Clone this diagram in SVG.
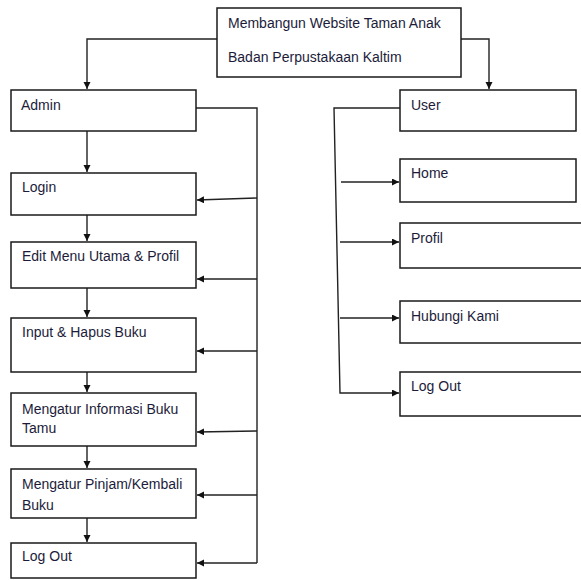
<svg xmlns="http://www.w3.org/2000/svg" width="581" height="580" viewBox="0 0 581 580">
<style>
.box{fill:#fff;stroke:#1a1a1a;stroke-width:1.5}
.lbl{font-family:"Liberation Sans",Arial,sans-serif;font-size:14px;fill:#1c1c3a}
.c{fill:none;stroke:#222;stroke-width:1.4}
</style>
<defs>
<marker id="ah" markerUnits="userSpaceOnUse" markerWidth="8" markerHeight="8" refX="7" refY="3.5" orient="auto">
<path d="M0,0 L7,3.5 L0,7 z" fill="#111"/>
</marker>
</defs>
<rect width="581" height="580" fill="#fff"/>
<g id="connectors">
<polyline class="c" points="217,39 87,39 87,89" marker-end="url(#ah)"/>
<polyline class="c" points="461,39 489,39 489,89" marker-end="url(#ah)"/>
<line class="c" x1="87" y1="131" x2="87" y2="172" marker-end="url(#ah)"/>
<line class="c" x1="87" y1="215" x2="87" y2="241" marker-end="url(#ah)"/>
<line class="c" x1="87" y1="288" x2="87" y2="317" marker-end="url(#ah)"/>
<line class="c" x1="87" y1="372" x2="87" y2="392" marker-end="url(#ah)"/>
<line class="c" x1="87" y1="446" x2="87" y2="468" marker-end="url(#ah)"/>
<line class="c" x1="87" y1="518" x2="87" y2="542" marker-end="url(#ah)"/>
<polyline class="c" points="196,108 257,108 257,563"/>
<line class="c" x1="257" y1="198" x2="197" y2="200" marker-end="url(#ah)"/>
<line class="c" x1="257" y1="279" x2="197" y2="279" marker-end="url(#ah)"/>
<line class="c" x1="257" y1="351" x2="197" y2="351" marker-end="url(#ah)"/>
<line class="c" x1="257" y1="431" x2="197" y2="432" marker-end="url(#ah)"/>
<line class="c" x1="257" y1="495" x2="197" y2="495" marker-end="url(#ah)"/>
<line class="c" x1="257" y1="563" x2="197" y2="563" marker-end="url(#ah)"/>
<polyline class="c" points="400,108 334,108 340,393 399,393" marker-end="url(#ah)"/>
<line class="c" x1="341" y1="182" x2="399" y2="182" marker-end="url(#ah)"/>
<line class="c" x1="340" y1="242" x2="399" y2="242" marker-end="url(#ah)"/>
<line class="c" x1="340" y1="318" x2="399" y2="318" marker-end="url(#ah)"/>
</g>
<g id="root">
<rect class="box" x="217" y="8" width="244" height="69"/>
<text class="lbl" x="228" y="28">Membangun Website Taman Anak</text>
<text class="lbl" x="228" y="62">Badan Perpustakaan Kaltim</text>
</g>
<g id="admin">
<rect class="box" x="11" y="90" width="185" height="41"/>
<text class="lbl" x="21" y="110">Admin</text>
</g>
<g id="login">
<rect class="box" x="11" y="173" width="185" height="42"/>
<text class="lbl" x="22" y="192">Login</text>
</g>
<g id="edit-menu">
<rect class="box" x="11" y="242" width="185" height="46"/>
<text class="lbl" x="22" y="261">Edit Menu Utama &amp; Profil</text>
</g>
<g id="input-hapus">
<rect class="box" x="11" y="318" width="185" height="54"/>
<text class="lbl" x="22" y="337">Input &amp; Hapus Buku</text>
</g>
<g id="buku-tamu">
<rect class="box" x="11" y="393" width="185" height="53"/>
<text class="lbl" x="22" y="414">Mengatur Informasi Buku</text>
<text class="lbl" x="22" y="433">Tamu</text>
</g>
<g id="pinjam">
<rect class="box" x="11" y="469" width="185" height="49"/>
<text class="lbl" x="22" y="489">Mengatur Pinjam/Kembali</text>
<text class="lbl" x="22" y="510">Buku</text>
</g>
<g id="admin-logout">
<rect class="box" x="11" y="543" width="185" height="35"/>
<text class="lbl" x="22" y="561">Log Out</text>
</g>
<g id="user">
<rect class="box" x="400" y="90" width="176" height="41"/>
<text class="lbl" x="411" y="110">User</text>
</g>
<g id="home">
<rect class="box" x="400" y="159" width="176" height="43"/>
<text class="lbl" x="411" y="178">Home</text>
</g>
<g id="profil">
<rect class="box" x="400" y="223" width="185" height="45"/>
<text class="lbl" x="411" y="243">Profil</text>
</g>
<g id="hubungi">
<rect class="box" x="400" y="301" width="185" height="42"/>
<text class="lbl" x="411" y="321">Hubungi Kami</text>
</g>
<g id="user-logout">
<rect class="box" x="400" y="372" width="185" height="44"/>
<text class="lbl" x="411" y="391">Log Out</text>
</g>
</svg>
